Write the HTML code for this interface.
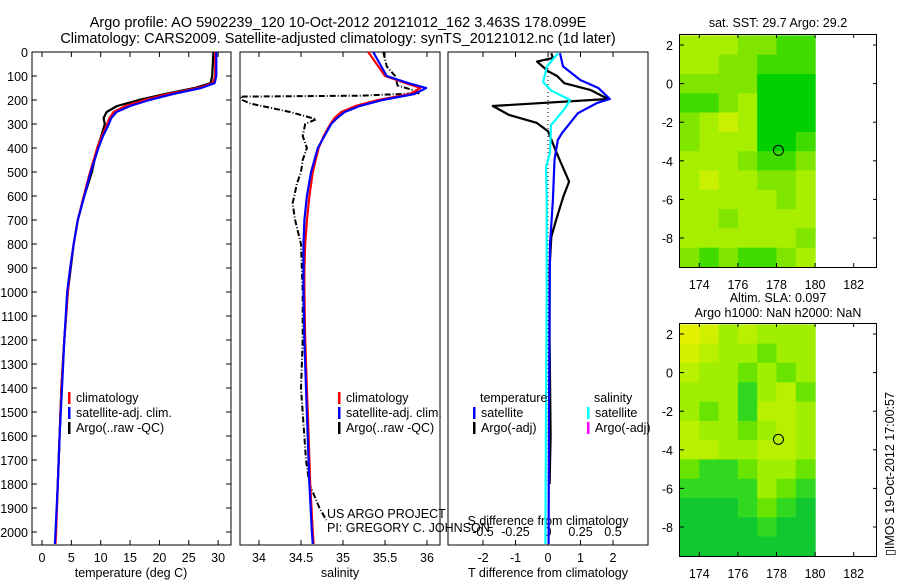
<!DOCTYPE html>
<html><head><meta charset="utf-8">
<style>
body{margin:0;background:#fff;}
svg{display:block;font-family:"Liberation Sans",sans-serif;}
text{fill:#000;}
</style></head>
<body>
<svg id="c" width="900" height="580" viewBox="0 0 900 580" xmlns="http://www.w3.org/2000/svg">
<text x="338" y="27" font-size="14.5" text-anchor="middle">Argo profile: AO 5902239_120 10-Oct-2012 20121012_162 3.463S 178.099E</text>
<text x="338" y="43" font-size="14.5" text-anchor="middle">Climatology: CARS2009. Satellite-adjusted climatology: synTS_20121012.nc (1d later)</text>
<text x="778" y="27" font-size="12.5" text-anchor="middle">sat. SST: 29.7 Argo: 29.2</text>
<text x="778" y="302" font-size="12.5" text-anchor="middle">Altim. SLA: 0.097</text>
<text x="778" y="317" font-size="12.5" text-anchor="middle">Argo h1000: NaN h2000: NaN</text>
<text transform="translate(894,556) rotate(-90)" font-size="12.5">▯IMOS 19-Oct-2012 17:00:57</text>
<g id="g"></g>
</svg>
<script>
// ---- data ----
const depthTicks=[0,100,200,300,400,500,600,700,800,900,1000,1100,1200,1300,1400,1500,1600,1700,1800,1900,2000];
const tempTicks=[0,5,10,15,20,25,30];
const salTicks=[34,34.5,35,35.5,36];
const tdiffTicks=[-2,-1,0,1,2];
const sdiffTicks=[-0.5,-0.25,0,0.25,0.5];
const climDepth=[0,100,130,150,175,200,225,250,275,300,350,400,500,600,700,800,900,1000,1200,1400,1600,1800,2000,2050];
const tempClim=[29.5,29.5,29.1,26.6,21.5,17.5,14.2,12.2,11.5,11.1,10.2,9.4,8.2,7.1,6.1,5.4,4.8,4.4,3.8,3.3,3.0,2.7,2.4,2.3];
const tempSat=[29.7,29.7,29.4,27.1,22.3,18.3,15.0,12.7,11.8,11.4,10.4,9.6,8.3,7.2,6.1,5.4,4.8,4.3,3.8,3.4,3.0,2.7,2.3,2.2];
const argoDepth=[0,50,100,130,150,175,200,225,250,275,300,350,400,500,600,700,800,1000,1200,1400,1600,1800,1850];
const tempArgo=[29.2,29.1,29.0,28.7,26.0,21.0,16.5,12.8,11.0,10.5,10.7,10.1,9.4,8.5,7.2,6.1,5.4,4.4,3.8,3.3,3.0,2.7,2.6];
const salClim=[35.30,35.5,35.75,35.92,35.8,35.42,35.15,34.98,34.9,34.85,34.77,34.71,34.64,34.6,34.57,34.55,34.54,34.54,34.55,34.57,34.59,34.61,34.64,34.65];
const salSat=[35.36,35.52,35.78,35.99,35.85,35.47,35.2,35.02,34.93,34.86,34.78,34.70,34.62,34.57,34.54,34.53,34.53,34.53,34.54,34.56,34.58,34.6,34.63,34.64];
const salArgoDepth=[0,60,100,140,160,172,182,186,200,215,250,280,300,350,400,450,500,550,600,630,700,800,1000,1200,1400,1700,1800,1850,1900,1950];
const salArgo=[35.48,35.52,35.62,35.65,35.85,35.9,35.2,33.78,33.8,33.9,34.37,34.68,34.55,34.52,34.57,34.52,34.5,34.45,34.42,34.4,34.43,34.5,34.52,34.52,34.5,34.56,34.6,34.66,34.72,34.8];
const dDepth=[5,60,117,150,196,213,255,338,367,450,617,800,1000,1500,2050];
const tDiffSat=[0.37,0.46,1.0,1.55,1.9,1.5,0.92,0.43,0.3,0.2,0.15,0.06,0.05,0.03,0.02];
const sDiffDepth=[5,60,125,160,200,235,305,420,480,600,1000,1500,2050];
const sDiffSat=[0.077,-0.008,-0.038,0.023,0.17,0.13,0.023,0.015,-0.015,-0.01,-0.01,-0.015,-0.02];
const tDiffArgoDepth=[5,25,40,80,100,130,158,196,225,262,295,330,415,478,540,603,700,770,900,1200,1600,1800];
const tDiffArgo=[0.1,0.15,-0.34,0,0.28,0.5,1.3,1.85,-1.7,-1.2,-0.35,0,0.25,0.45,0.65,0.47,0.25,0.1,0.05,0.05,0.08,0.05];
const lonTicks=[174,176,178,180,182];
const latTicks=[2,0,-2,-4,-6,-8];
const sstGrid=[
[3,3,3,2,2,1,1],[3,3,2,2,1,1,1],[2,2,2,2,0,0,0],[1,1,2,3,0,0,0],
[2,3,4,3,0,0,0],[2,3,3,3,0,0,1],[3,3,3,2,1,1,2],[3,4,3,3,2,2,3],
[3,3,3,3,3,2,3],[3,3,2,3,3,3,3],[3,3,3,3,3,3,2],[2,1,2,1,1,2,3]];
const slaGrid=[
[6,5,3,4,3,3,3],[5,4,3,3,2,3,3],[4,3,3,2,3,2,3],[3,3,3,1,3,4,2],
[3,2,3,1,4,4,3],[4,3,3,2,3,4,3],[4,4,3,3,4,4,3],[2,1,1,2,3,3,2],
[1,1,1,1,3,2,1],[0,0,0,1,2,1,0],[0,0,0,0,1,0,0],[0,0,0,0,0,0,0]];
const argoLon=178.1, argoLat=-3.46;

// ---- drawing ----
const NS="http://www.w3.org/2000/svg";
const G=document.getElementById('g');
function el(tag,attrs,parent){const e=document.createElementNS(NS,tag);for(const k in attrs)e.setAttribute(k,attrs[k]);(parent||G).appendChild(e);return e;}
const yD=d=>52+0.24*d;
const PT=5.87;
const xT=v=>42+v*PT, xS=v=>259+(v-34)*84, xTD=v=>548+v*32.5, xSD=v=>548+v*130;
const panels=[[32,231,'temperature-panel'],[240,440,'salinity-panel'],[448,648,'difference-panel']];
panels.forEach(p=>{
  const r=el('rect',{x:p[0],y:52,width:p[1]-p[0],height:493,fill:'none',stroke:'#000','stroke-width':1});
  
  
});
depthTicks.forEach(d=>{
  el('line',{x1:32,x2:37,y1:yD(d),y2:yD(d),stroke:'#000'});
  el('line',{x1:226,x2:231,y1:yD(d),y2:yD(d),stroke:'#000'});
  const t=el('text',{x:28,y:yD(d)+5,'font-size':12.5,'text-anchor':'end'});t.textContent=d;
  
  
});
function xaxis(ticks,fx,y){ticks.forEach(v=>{
  el('line',{x1:fx(v),x2:fx(v),y1:52,y2:57,stroke:'#000'});
  el('line',{x1:fx(v),x2:fx(v),y1:540,y2:545,stroke:'#000'});
  const t=el('text',{x:fx(v),y:y,'font-size':12.5,'text-anchor':'middle'});t.textContent=v;
  
  
});}
xaxis(tempTicks,xT,562);
xaxis(salTicks,xS,562);
xaxis(tdiffTicks,xTD,562);
sdiffTicks.forEach(v=>{const t=el('text',{x:xSD(v),y:536,'font-size':12.5,'text-anchor':'middle'});t.textContent=v;
  
  });
[[131,'temperature (deg C)','temperature-axis-title'],[340,'salinity','salinity-axis-title'],[548,'T difference from climatology','t-diff-axis-title']].forEach(a=>{
  const t=el('text',{x:a[0],y:577,'font-size':12.5,'text-anchor':'middle'});t.textContent=a[1];
  
  });
{const t=el('text',{x:548,y:525,'font-size':12.5,'text-anchor':'middle'});t.textContent='S difference from climatology';

}
el('line',{x1:548,x2:548,y1:52,y2:545,stroke:'#000','stroke-dasharray':'1 3'});
function line(xs,ds,fx,col,w,name,dash){
  const pts=xs.map((v,i)=>fx(v).toFixed(1)+','+yD(ds[i]).toFixed(1)).join(' ');
  const a={points:pts,fill:'none',stroke:col,'stroke-width':w,'stroke-linejoin':'round'};
  if(dash)a['stroke-dasharray']=dash;
  const p=el('polyline',a);
  
  
}
line(tempArgo,argoDepth,xT,'#000',2.2,'temp-argo-line');
line(tempClim,climDepth,xT,'#f00',2.2,'temp-climatology-line');
line(tempSat,climDepth,xT,'#00f',2.2,'temp-satellite-line');
line(salArgo,salArgoDepth,xS,'#000',2,'salinity-argo-line','6 2 1 2');
line(salClim,climDepth,xS,'#f00',2.2,'salinity-climatology-line');
line(salSat,climDepth,xS,'#00f',2.2,'salinity-satellite-line');
line(tDiffArgo,tDiffArgoDepth,xTD,'#000',2.2,'t-diff-argo-line');
line(sDiffSat,sDiffDepth,xSD,'#0ff',2.2,'s-diff-satellite-line');
line(tDiffSat,dDepth,xTD,'#00f',2.2,'t-diff-satellite-line');
function leg(x,y,col,txt,name){el('rect',{x:x,y:y-10,width:2.5,height:12,fill:col});
  const t=el('text',{x:x+8,y:y,'font-size':12.5});t.textContent=txt;
  
  }
[[68,'temp'],[338,'sal']].forEach(L=>{
  leg(L[0],402,'#f00','climatology',L[1]+'-legend-climatology');
  leg(L[0],417,'#00f','satellite-adj. clim.',L[1]+'-legend-satellite');
  leg(L[0],432,'#000','Argo(..raw -QC)',L[1]+'-legend-argo');
});
{const t=el('text',{x:480,y:402,'font-size':12.5});t.textContent='temperature';}
{const t=el('text',{x:594,y:402,'font-size':12.5});t.textContent='salinity';}
leg(473,417,'#00f','satellite','diff-legend-t-satellite');
leg(473,432,'#000','Argo(-adj)','diff-legend-t-argo');
leg(587,417,'#0ff','satellite','diff-legend-s-satellite');
leg(587,432,'#f0f','Argo(-adj)','diff-legend-s-argo');
{const t=el('text',{x:327,y:518,'font-size':12.5});t.textContent='US ARGO PROJECT';}
{const t=el('text',{x:327,y:532,'font-size':12.5});t.textContent='PI: GREGORY C. JOHNSON';}
const sstCols=['#00d000','#40dc00','#80e600','#a8ee00','#c8f000','#e8f000'];
const slaCols=['#10c830','#30d820','#68e400','#a0ee00','#b8f000','#d0f000','#e4f000'];
function map(top,grid,cols,name){
  const px=19.3;
  const xL=v=>680+(v-173)*px, yL=v=>top+11+(2-v)*px;
  grid.forEach((row,r)=>row.forEach((v,c)=>{
    const cell=el('rect',{x:xL(173+c).toFixed(1),y:yL(2.5-r).toFixed(1),width:px+0.6,height:px+0.6,fill:cols[v]});
    
    
  }));
  el('rect',{x:xL(180.1),y:top,width:877-xL(180.1),height:233,fill:'#fff'});
  const fr=el('rect',{x:679.5,y:top+0.5,width:197,height:233,fill:'none',stroke:'#000'});
  
  
  lonTicks.forEach(v=>{el('line',{x1:xL(v),x2:xL(v),y1:top,y2:top+4,stroke:'#000'});
    el('line',{x1:xL(v),x2:xL(v),y1:top+229,y2:top+233,stroke:'#000'});
    const t=el('text',{x:xL(v),y:top+255,'font-size':12.5,'text-anchor':'middle'});t.textContent=v;
    
    });
  latTicks.forEach(v=>{el('line',{x1:873,x2:877,y1:yL(v),y2:yL(v),stroke:'#000'});
    el('line',{x1:680,x2:684,y1:yL(v),y2:yL(v),stroke:'#000'});
    const t=el('text',{x:673,y:yL(v)+5,'font-size':12.5,'text-anchor':'end'});t.textContent=v;
    
    });
  const c=el('circle',{cx:xL(argoLon),cy:yL(argoLat),r:5,fill:'none',stroke:'#000'});
  
  
}
map(34,sstGrid,sstCols,'sst-map');
map(323,slaGrid,slaCols,'sla-map');
</script>
</body></html>
